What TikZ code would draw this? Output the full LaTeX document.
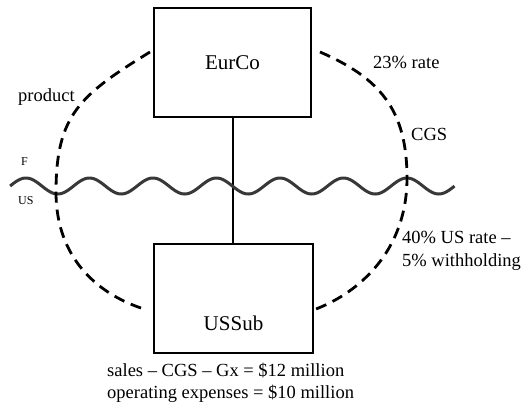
\documentclass[tikz,border=0pt]{standalone}
\usepackage{fontspec}
\setmainfont{Liberation Serif}
\begin{document}
\begin{tikzpicture}[x=1pt,y=-1pt,
  entity/.style={draw, line width=2.8pt, inner sep=0pt, outer sep=0pt, minimum width=157pt, minimum height=109pt, font=\fontsize{21}{24}\selectfont},
  flow/.style={line width=2.8pt, dash pattern=on 11pt off 7pt},
  note/.style={inner sep=0pt, anchor=base west, font=\fontsize{18.5}{22}\selectfont},
  small/.style={inner sep=0pt, anchor=base west, font=\fontsize{12}{14}\selectfont},
  border/.style={line width=3pt, black!78}]
\useasboundingbox (0,0) rectangle (524,405);
% boxes
\node[entity] (eur) at (232.5,62.5) {EurCo};
\node[entity, minimum width=159pt] (us) at (233.5,298.5) {};
\node[inner sep=0pt, font=\fontsize{21}{24}\selectfont] (uslabel) at (233.5,323) {USSub};
% ownership line
\draw[line width=2.2pt] (eur.south -| 233.3,0) -- (us.north -| 233.3,0);
% border wave
\draw[border] plot[domain=0:7, samples=281, smooth] ({10.1+63.5*\x},{186-8*sin(360*\x)});
% dashed flows
\coordinate (tl) at (150,52);
\coordinate (ml) at (56,192);
\coordinate (bl) at (144,309);
\coordinate (tr) at (320,52);
\coordinate (mr) at (407,178);
\coordinate (br) at (316,309);
\draw[flow] (tl) .. controls (80,95) and (56,115) .. (ml)
               .. controls (56,260) and (100,295) .. (bl);
\draw[flow] (tr) .. controls (380,78) and (407,110) .. (mr)
               .. controls (407,250) and (360,292) .. (br);
% labels
\node[note] (prod) at (18,101) {product};
\node[note] (rate) at (373,68) {23\% rate};
\node[note] (cgs) at (411,140) {CGS};
\node[note] (usrate) at (402,243) {40\% US rate –};
\node[note] (wh) at (402,266) {5\% withholding};
\node[note] (sales) at (107,376.5) {sales – CGS – Gx = \$12 million};
\node[note] (opex) at (107,398.5) {operating expenses = \$10 million};
\node[small] (f) at (21,165) {F};
\node[small] (uslab) at (18,204) {US};
\end{tikzpicture}
\end{document}
